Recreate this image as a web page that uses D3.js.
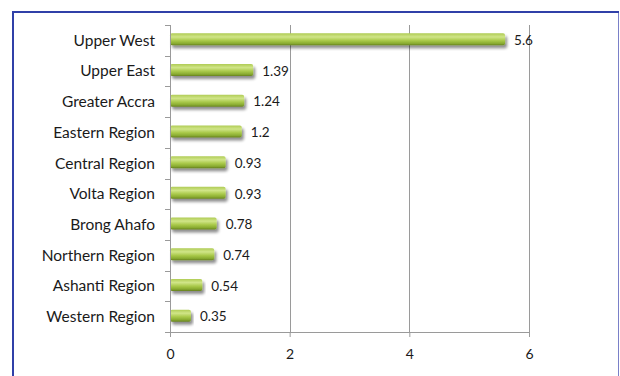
<!DOCTYPE html>
<html>
<head>
<meta charset="utf-8">
<script src="https://cdn.jsdelivr.net/npm/d3@7"></script>
<style>
  html, body { margin: 0; padding: 0; background: #fff; }
  svg { display: block; }
  text { font-family: Lato, "Open Sans", sans-serif; fill: #1a1a1a; }
</style>
</head>
<body>
<div id="chart"></div>
<script>
// Regions, top to bottom, and their values
const regions = ["Upper West", "Upper East", "Greater Accra", "Eastern Region", "Central Region",
                 "Volta Region", "Brong Ahafo", "Northern Region", "Ashanti Region", "Western Region"];
const values = [5.6, 1.39, 1.24, 1.2, 0.93, 0.93, 0.78, 0.74, 0.54, 0.35];
const valueLabels = ["5.6", "1.39", "1.24", "1.2", "0.93", "0.93", "0.78", "0.74", "0.54", "0.35"];
const xTicks = [0, 2, 4, 6];

const W = 620, H = 376;
const m = { top: 25, left: 170, right: 91, bottom: 44 };
const iw = W - m.left - m.right, ih = H - m.top - m.bottom;

const svg = d3.select("#chart").append("svg").attr("width", W).attr("height", H);
const defs = svg.append("defs");

// cylinder-like shading for the bars
const grad = defs.append("linearGradient").attr("id", "barGrad")
  .attr("x1", 0).attr("y1", 0).attr("x2", 0).attr("y2", 1);
[[0, "#b0cc55"], [0.3, "#d0e588"], [0.6, "#a9c94a"], [0.85, "#88aa30"], [1, "#657f1e"]]
  .forEach(([o, c]) => grad.append("stop").attr("offset", o).attr("stop-color", c));

const shadow = defs.append("filter").attr("id", "shadow")
  .attr("x", "-5%").attr("y", "-30%").attr("width", "115%").attr("height", "190%");
shadow.append("feGaussianBlur").attr("in", "SourceAlpha").attr("stdDeviation", 1.6);
shadow.append("feOffset").attr("dx", 2).attr("dy", 2.5).attr("result", "b");
shadow.append("feComponentTransfer").append("feFuncA").attr("type", "linear").attr("slope", 0.45);
const merge = shadow.append("feMerge");
merge.append("feMergeNode");
merge.append("feMergeNode").attr("in", "SourceGraphic");

// frame
svg.append("rect").attr("x", 13).attr("y", 12).attr("width", 605.5).attr("height", 380)
  .attr("fill", "none").attr("stroke", "#7a80c8").attr("stroke-width", 1);
svg.append("line").attr("x1", 13).attr("x2", 619).attr("y1", 12).attr("y2", 12)
  .attr("stroke", "#3040a8").attr("stroke-width", 2);
svg.append("line").attr("x1", 13).attr("x2", 13).attr("y1", 11).attr("y2", H)
  .attr("stroke", "#3040a8").attr("stroke-width", 2);

const x = d3.scaleLinear().domain([0, 6]).range([0, iw]);
const y = d3.scaleBand().domain(regions).range([0, ih]).padding(0);

const g = svg.append("g").attr("transform", `translate(${m.left},${m.top})`);

// vertical gridlines
g.selectAll(".grid").data(xTicks.filter(d => d > 0)).join("line")
  .attr("x1", d => Math.round(x(d)) + 0.5).attr("x2", d => Math.round(x(d)) + 0.5)
  .attr("y1", 0).attr("y2", ih)
  .attr("stroke", "#9a9a9a").attr("stroke-width", 1);

// bars
const bh = 12;
g.selectAll(".bar").data(regions).join("rect")
  .attr("x", 0)
  .attr("y", d => y(d) + y.bandwidth() / 2 - bh / 2 - 1)
  .attr("width", (d, i) => x(values[i]))
  .attr("height", bh)
  .attr("rx", 2)
  .attr("fill", "url(#barGrad)")
  .attr("filter", "url(#shadow)");

// value labels
g.selectAll(".val").data(regions).join("text")
  .attr("x", (d, i) => x(values[i]) + 9)
  .attr("y", d => y(d) + y.bandwidth() / 2)
  .attr("dy", "0.35em")
  .attr("font-size", 13.5)
  .text((d, i) => valueLabels[i]);

// y axis: tick marks at band edges, labels centred on bands
const yEdges = regions.map(r => y(r)).concat([ih]);
g.append("line").attr("x1", 0.5).attr("x2", 0.5).attr("y1", 0).attr("y2", ih)
  .attr("stroke", "#9a9a9a");
g.selectAll(".ytick").data(yEdges).join("line")
  .attr("x1", -5).attr("x2", 0).attr("y1", d => Math.round(d) + 0.5).attr("y2", d => Math.round(d) + 0.5)
  .attr("stroke", "#9a9a9a");
g.selectAll(".ylab").data(regions).join("text")
  .attr("x", -15)
  .attr("y", d => y(d) + y.bandwidth() / 2)
  .attr("dy", "0.35em")
  .attr("text-anchor", "end")
  .attr("font-size", 15.5)
  .text(d => d);

// x axis
const xAxis = g.append("g").attr("transform", `translate(0,${ih})`)
  .call(d3.axisBottom(x).tickValues(xTicks).tickSize(5).tickPadding(12).tickFormat(d3.format("d")));
xAxis.select(".domain").attr("stroke", "#9a9a9a");
xAxis.selectAll(".tick line").attr("stroke", "#9a9a9a");
xAxis.selectAll(".tick text").attr("font-size", 14)
  .style("font-family", "Lato, 'Open Sans', sans-serif").attr("fill", "#1a1a1a");
</script>
</body>
</html>
